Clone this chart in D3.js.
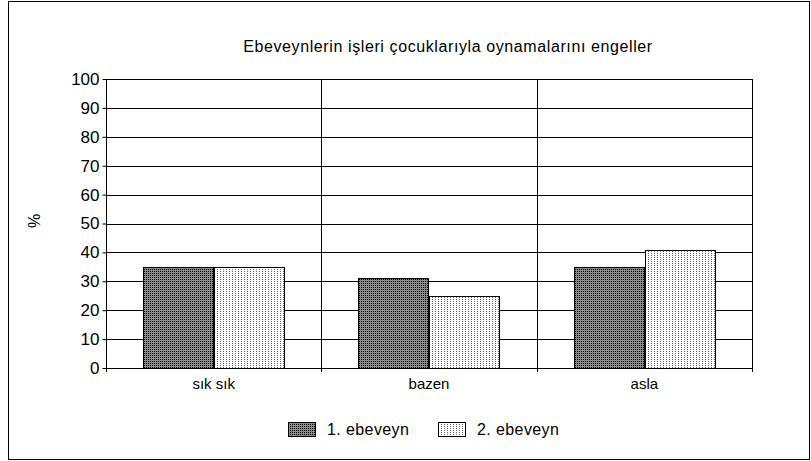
<!DOCTYPE html>
<html>
<head>
<meta charset="utf-8">
<script src="https://cdn.jsdelivr.net/npm/d3@7"></script>
<style>
  body { margin: 0; background: #fff; }
  svg { display: block; font-family: "Liberation Sans", Arial, sans-serif; }
</style>
</head>
<body>
<svg id="chart" width="811" height="461"></svg>
<script>
// data
const categories = ["sık sık", "bazen", "asla"];
const seriesNames = ["1. ebeveyn", "2. ebeveyn"];
const parent1 = [35, 31, 35];
const parent2 = [35, 25, 41];
const yTicks = [0, 10, 20, 30, 40, 50, 60, 70, 80, 90, 100];

const svg = d3.select("#chart");
const W = +svg.attr("width"), H = +svg.attr("height");
const m = { left: 106, right: 59, top: 79, bottom: 93 };
const pw = W - m.left - m.right, ph = H - m.top - m.bottom;
const FONT = "Liberation Sans, Arial, sans-serif";

// patterns for the bars
const defs = svg.append("defs");
const p1 = defs.append("pattern").attr("id", "pat1").attr("patternUnits", "userSpaceOnUse")
  .attr("width", 2).attr("height", 2);
p1.append("rect").attr("width", 2).attr("height", 2).attr("fill", "#8c8c8c");
p1.append("rect").attr("width", 1).attr("height", 1).attr("fill", "#000");
const p2 = defs.append("pattern").attr("id", "pat2").attr("patternUnits", "userSpaceOnUse")
  .attr("width", 3).attr("height", 2);
p2.append("rect").attr("width", 3).attr("height", 2).attr("fill", "#fff");
p2.append("rect").attr("width", 1).attr("height", 1).attr("fill", "#666");
const fills = ["url(#pat1)", "url(#pat2)"];

// outer frame
svg.append("rect").attr("x", 8.5).attr("y", 1.5).attr("width", W - 10).attr("height", H - 3)
  .attr("fill", "none").attr("stroke", "#000");

const g = svg.append("g").attr("transform", `translate(${m.left},${m.top})`);

const x = d3.scaleBand().domain(categories).range([0, pw]);
const xs = d3.scaleBand().domain(seriesNames).range([0, x.bandwidth()]).paddingOuter(0.53);
const y = d3.scaleLinear().domain([0, 100]).range([ph, 0]);

// horizontal gridlines
g.append("g").selectAll("line").data(yTicks).join("line")
  .attr("x1", 0).attr("x2", pw)
  .attr("y1", d => Math.round(y(d)) + 0.5).attr("y2", d => Math.round(y(d)) + 0.5)
  .attr("stroke", "#000");

// vertical separators
g.append("g").selectAll("line").data(categories.slice(1)).join("line")
  .attr("x1", d => Math.round(x(d)) + 0.5).attr("x2", d => Math.round(x(d)) + 0.5)
  .attr("y1", 0).attr("y2", ph + 4)
  .attr("stroke", "#000");

// right border of plot
g.append("line").attr("x1", pw + 0.5).attr("x2", pw + 0.5).attr("y1", 0).attr("y2", ph + 4)
  .attr("stroke", "#000");

// bars
const rows = categories.map((c, i) => ({ c, vals: [parent1[i], parent2[i]] }));
const grp = g.append("g").selectAll("g").data(rows).join("g")
  .attr("transform", d => `translate(${Math.round(x(d.c))},0)`);
grp.selectAll("rect").data(d => d.vals.map((v, k) => ({ v, k }))).join("rect")
  .attr("x", d => Math.round(xs(seriesNames[d.k])) + 0.5)
  .attr("y", d => Math.round(y(d.v)) + 0.5)
  .attr("width", Math.round(xs.bandwidth()))
  .attr("height", d => Math.round(ph - y(d.v)))
  .attr("fill", d => fills[d.k])
  .attr("stroke", "#000");

// y axis
const yAxis = g.append("g").attr("transform", "translate(0.5,0)")
  .call(d3.axisLeft(y).tickValues(yTicks).tickSize(4).tickPadding(3));
yAxis.select(".domain").attr("d", `M0,0.5V${ph + 4}`);
yAxis.selectAll("text").attr("font-size", 17).attr("fill", "#000").attr("font-family", FONT);

// x axis
const xAxis = g.append("g").attr("transform", `translate(0,${Math.round(ph) + 0.5})`)
  .call(d3.axisBottom(x).tickSize(0).tickPadding(10));
xAxis.select(".domain").attr("d", `M0,0H${pw}`);
xAxis.selectAll("text").attr("font-size", 15).attr("fill", "#000").attr("font-family", FONT);

// y label
svg.append("text").attr("transform", "translate(40,221) rotate(-90)")
  .attr("text-anchor", "middle").attr("font-size", 16).text("%");

// title
svg.append("text").attr("x", 448).attr("y", 52).attr("text-anchor", "middle")
  .attr("font-size", 16).attr("letter-spacing", 0.6)
  .text("Ebeveynlerin işleri çocuklarıyla oynamalarını engeller");

// legend
const leg = svg.append("g").attr("transform", "translate(288,422)");
const items = leg.selectAll("g").data(seriesNames).join("g")
  .attr("transform", (d, i) => `translate(${i * 150},0)`);
items.append("rect").attr("x", 0.5).attr("y", 0.5).attr("width", 27).attr("height", 14)
  .attr("fill", (d, i) => fills[i]).attr("stroke", "#000");
items.append("text").attr("x", 39).attr("y", 13).attr("font-size", 16).attr("letter-spacing", 0.4)
  .text(d => d);
</script>
</body>
</html>
